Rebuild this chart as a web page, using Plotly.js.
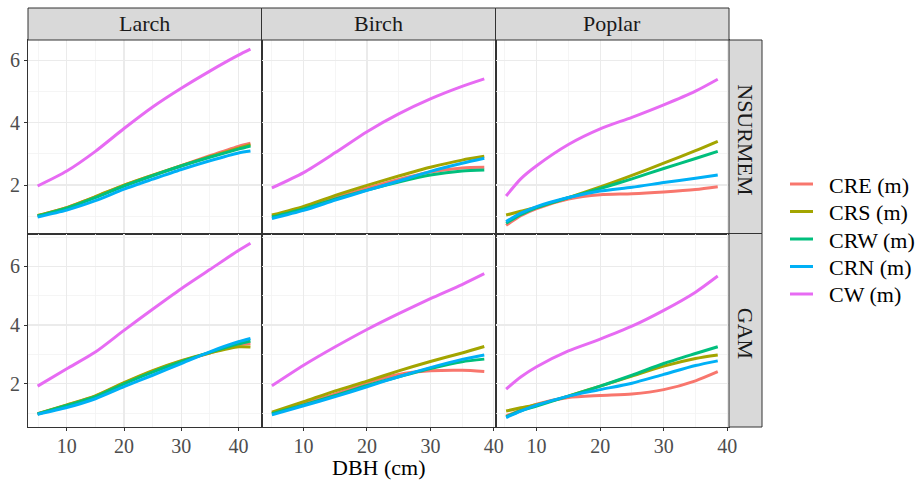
<!DOCTYPE html>
<html>
<head>
<meta charset="utf-8">
<script src="https://cdn.plot.ly/plotly-3.0.1.min.js"></script>
<style>
  html, body { margin: 0; padding: 0; background: #ffffff; }
  #chart { width: 917px; height: 487px; }
</style>
</head>
<body>
<div id="chart"></div>
<script>
// Facet labels
const species = ['Larch', 'Birch', 'Poplar'];
const methods = ['NSURMEM', 'GAM'];
const seriesNames = ['CRE (m)', 'CRS (m)', 'CRW (m)', 'CRN (m)', 'CW (m)'];
const seriesColors = ['#F8766D', '#A3A500', '#00BF7D', '#00B0F6', '#E76BF3'];

// DBH (cm) sample points per species
const dbhLarch = [4.9, 10, 15, 20, 25, 30, 35, 40, 42.1];
const dbhBirch = [5, 10, 15, 20, 25, 30, 35, 38.5];
const dbhPoplar = [5.2, 7.5, 10, 15, 20, 25, 30, 35, 38.5];

// Larch, NSURMEM
const larchNsurmemCRE = [1.02, 1.28, 1.62, 1.99, 2.31, 2.62, 2.94, 3.24, 3.34];
const larchNsurmemCRS = [1.03, 1.28, 1.63, 2.00, 2.32, 2.62, 2.91, 3.18, 3.29];
const larchNsurmemCRW = [1.01, 1.26, 1.60, 1.97, 2.30, 2.61, 2.89, 3.15, 3.25];
const larchNsurmemCRN = [0.98, 1.20, 1.50, 1.87, 2.19, 2.50, 2.78, 3.03, 3.09];
const larchNsurmemCW  = [1.97, 2.45, 3.08, 3.81, 4.50, 5.10, 5.65, 6.16, 6.35];

// Birch, NSURMEM
const birchNsurmemCRE = [1.00, 1.27, 1.60, 1.90, 2.18, 2.42, 2.55, 2.57];
const birchNsurmemCRS = [1.04, 1.32, 1.67, 1.99, 2.29, 2.57, 2.80, 2.92];
const birchNsurmemCRW = [0.98, 1.24, 1.56, 1.84, 2.10, 2.32, 2.45, 2.48];
const birchNsurmemCRN = [0.93, 1.19, 1.52, 1.83, 2.13, 2.44, 2.70, 2.86];
const birchNsurmemCW  = [1.91, 2.40, 3.04, 3.71, 4.28, 4.76, 5.16, 5.40];

// Poplar, NSURMEM
const poplarNsurmemCRE = [0.71, 1.02, 1.25, 1.55, 1.69, 1.72, 1.78, 1.86, 1.95];
const poplarNsurmemCRS = [1.04, 1.16, 1.29, 1.60, 1.94, 2.31, 2.70, 3.10, 3.40];
const poplarNsurmemCRW = [0.78, 1.05, 1.28, 1.60, 1.89, 2.20, 2.53, 2.85, 3.08];
const poplarNsurmemCRN = [0.83, 1.10, 1.31, 1.60, 1.81, 1.93, 2.08, 2.22, 2.32];
const poplarNsurmemCW  = [1.65, 2.20, 2.62, 3.30, 3.80, 4.17, 4.57, 5.01, 5.39];

// Larch, GAM
const larchGamCRE = [0.97, 1.27, 1.58, 2.02, 2.43, 2.77, 3.05, 3.33, 3.37];
const larchGamCRS = [0.98, 1.28, 1.59, 2.04, 2.45, 2.79, 3.05, 3.26, 3.25];
const larchGamCRW = [0.97, 1.26, 1.56, 2.00, 2.40, 2.75, 3.07, 3.36, 3.46];
const larchGamCRN = [0.96, 1.19, 1.49, 1.90, 2.29, 2.69, 3.09, 3.43, 3.54];
const larchGamCW  = [1.92, 2.51, 3.08, 3.82, 4.54, 5.24, 5.89, 6.54, 6.79];

// Birch, GAM
const birchGamCRE = [0.99, 1.33, 1.65, 2.03, 2.32, 2.44, 2.46, 2.42];
const birchGamCRS = [1.03, 1.39, 1.76, 2.09, 2.44, 2.76, 3.05, 3.27];
const birchGamCRW = [0.98, 1.28, 1.60, 1.94, 2.24, 2.52, 2.75, 2.84];
const birchGamCRN = [0.94, 1.25, 1.56, 1.90, 2.24, 2.55, 2.83, 2.98];
const birchGamCW  = [1.93, 2.63, 3.26, 3.85, 4.39, 4.90, 5.38, 5.75];

// Poplar, GAM
const poplarGamCRE = [0.90, 1.10, 1.30, 1.53, 1.60, 1.65, 1.80, 2.10, 2.41];
const poplarGamCRS = [1.07, 1.18, 1.29, 1.58, 1.92, 2.26, 2.60, 2.86, 2.98];
const poplarGamCRW = [0.88, 1.08, 1.24, 1.58, 1.92, 2.29, 2.69, 3.03, 3.26];
const poplarGamCRN = [0.85, 1.07, 1.27, 1.58, 1.80, 2.02, 2.32, 2.62, 2.78];
const poplarGamCW  = [1.82, 2.23, 2.58, 3.12, 3.52, 3.96, 4.50, 5.12, 5.67];

// Panels in reading order: row (method) by column (species)
const panels = [
  { x: dbhLarch,  ys: [larchNsurmemCRE, larchNsurmemCRS, larchNsurmemCRW, larchNsurmemCRN, larchNsurmemCW] },
  { x: dbhBirch,  ys: [birchNsurmemCRE, birchNsurmemCRS, birchNsurmemCRW, birchNsurmemCRN, birchNsurmemCW] },
  { x: dbhPoplar, ys: [poplarNsurmemCRE, poplarNsurmemCRS, poplarNsurmemCRW, poplarNsurmemCRN, poplarNsurmemCW] },
  { x: dbhLarch,  ys: [larchGamCRE, larchGamCRS, larchGamCRW, larchGamCRN, larchGamCW] },
  { x: dbhBirch,  ys: [birchGamCRE, birchGamCRS, birchGamCRW, birchGamCRN, birchGamCW] },
  { x: dbhPoplar, ys: [poplarGamCRE, poplarGamCRS, poplarGamCRW, poplarGamCRN, poplarGamCW] }
];

const W = 917, H = 487;
const px = v => v / W;
const py = v => (H - v) / H;

// Panel geometry (pixels)
const colEdges = [28, 261.5, 495.5, 729];
const rowEdges = [40, 233.5, 427];
const stripTop = 8;
const stripRight = 762;

// Legend key geometry (pixels)
const keyX0 = 790, keyX1 = 813, keyTextX = 827;
const keyTop = 184, keyStep = 27.5;

const xRanges = [[3.22, 44.03], [3.36, 40.27], [3.53, 40.27]];
const yRanges = [[0.45, 6.645], [0.527, 7.12]];

const serif = "'Liberation Serif', 'Times New Roman', 'DejaVu Serif', serif";

const traces = [];
panels.forEach((p, i) => {
  const suffix = i === 0 ? '' : String(i + 1);
  p.ys.forEach((yv, s) => {
    traces.push({
      type: 'scatter',
      mode: 'lines',
      x: p.x,
      y: yv,
      name: seriesNames[s],
      showlegend: false,
      line: { color: seriesColors[s], width: 3, shape: 'spline', smoothing: 0.7 },
      xaxis: 'x' + suffix,
      yaxis: 'y' + suffix,
      hoverinfo: 'skip'
    });
  });
});

const layout = {
  width: W,
  height: H,
  margin: { l: 0, r: 0, t: 0, b: 0 },
  paper_bgcolor: '#ffffff',
  plot_bgcolor: '#ffffff',
  font: { family: serif, color: '#000000' },
  showlegend: false,
  shapes: [],
  annotations: []
};

for (let i = 0; i < 6; i++) {
  const row = Math.floor(i / 3);
  const col = i % 3;
  const suffix = i === 0 ? '' : String(i + 1);
  const xDom = [px(colEdges[col]), px(colEdges[col + 1])];
  const yDom = [py(rowEdges[row + 1]), py(rowEdges[row])];
  const bottom = row === 1;
  const left = col === 0;
  layout['xaxis' + suffix] = {
    domain: xDom,
    anchor: 'y' + suffix,
    range: xRanges[col],
    tickvals: [10, 20, 30, 40],
    showticklabels: bottom,
    ticks: bottom ? 'outside' : '',
    ticklen: 3,
    tickcolor: '#333333',
    tickwidth: 1,
    ticklabelstandoff: -2,
    tickfont: { family: serif, size: 20, color: '#4D4D4D' },
    showgrid: true,
    gridcolor: '#EBEBEB',
    gridwidth: 1.3,
    minor: { tickvals: [5, 15, 25, 35], showgrid: true, gridcolor: '#F2F2F2', gridwidth: 0.8, ticks: '' },
    zeroline: false,
    showline: true,
    mirror: true,
    linecolor: '#333333',
    linewidth: 1
  };
  layout['yaxis' + suffix] = {
    domain: yDom,
    anchor: 'x' + suffix,
    range: yRanges[row],
    tickvals: [2, 4, 6],
    showticklabels: left,
    ticks: left ? 'outside' : '',
    ticklen: 3,
    tickcolor: '#333333',
    tickwidth: 1,
    tickfont: { family: serif, size: 20, color: '#4D4D4D' },
    showgrid: true,
    gridcolor: '#EBEBEB',
    gridwidth: 1.3,
    minor: { tickvals: [1, 3, 5, 7], showgrid: true, gridcolor: '#F2F2F2', gridwidth: 0.8, ticks: '' },
    zeroline: false,
    showline: true,
    mirror: true,
    linecolor: '#333333',
    linewidth: 1
  };
}

// Column strips (species)
species.forEach((name, c) => {
  layout.shapes.push({
    type: 'rect', xref: 'paper', yref: 'paper', layer: 'above',
    x0: px(colEdges[c]), x1: px(colEdges[c + 1]),
    y0: py(rowEdges[0]), y1: py(stripTop),
    fillcolor: '#D9D9D9', line: { color: '#333333', width: 1 }
  });
  layout.annotations.push({
    xref: 'paper', yref: 'paper', showarrow: false,
    x: px((colEdges[c] + colEdges[c + 1]) / 2), y: py((stripTop + rowEdges[0]) / 2),
    xanchor: 'center', yanchor: 'middle',
    text: name,
    font: { family: serif, size: 22, color: '#1A1A1A' }
  });
});

// Row strips (method)
methods.forEach((name, r) => {
  layout.shapes.push({
    type: 'rect', xref: 'paper', yref: 'paper', layer: 'above',
    x0: px(colEdges[3]), x1: px(stripRight),
    y0: py(rowEdges[r + 1]), y1: py(rowEdges[r]),
    fillcolor: '#D9D9D9', line: { color: '#333333', width: 1 }
  });
  layout.annotations.push({
    xref: 'paper', yref: 'paper', showarrow: false,
    x: px((colEdges[3] + stripRight) / 2), y: py((rowEdges[r] + rowEdges[r + 1]) / 2 + 3),
    xanchor: 'center', yanchor: 'middle',
    textangle: 90,
    text: name,
    font: { family: serif, size: 22, color: '#1A1A1A' }
  });
});

// Legend keys: coloured line sample plus label for each series
seriesNames.forEach((name, s) => {
  const yk = keyTop + s * keyStep;
  layout.shapes.push({
    type: 'line', xref: 'paper', yref: 'paper',
    x0: px(keyX0), x1: px(keyX1), y0: py(yk), y1: py(yk),
    line: { color: seriesColors[s], width: 3 }
  });
  layout.annotations.push({
    xref: 'paper', yref: 'paper', showarrow: false,
    x: px(keyTextX), y: py(yk + 1),
    xanchor: 'left', yanchor: 'middle',
    text: name,
    font: { family: serif, size: 22, color: '#000000' }
  });
});

// Shared x-axis title
layout.annotations.push({
  xref: 'paper', yref: 'paper', showarrow: false,
  x: px((colEdges[0] + colEdges[3]) / 2), y: py(467),
  xanchor: 'center', yanchor: 'middle',
  text: 'DBH (cm)',
  font: { family: serif, size: 22, color: '#000000' }
});

Plotly.newPlot('chart', traces, layout, { staticPlot: true, displayModeBar: false });
</script>
</body>
</html>
